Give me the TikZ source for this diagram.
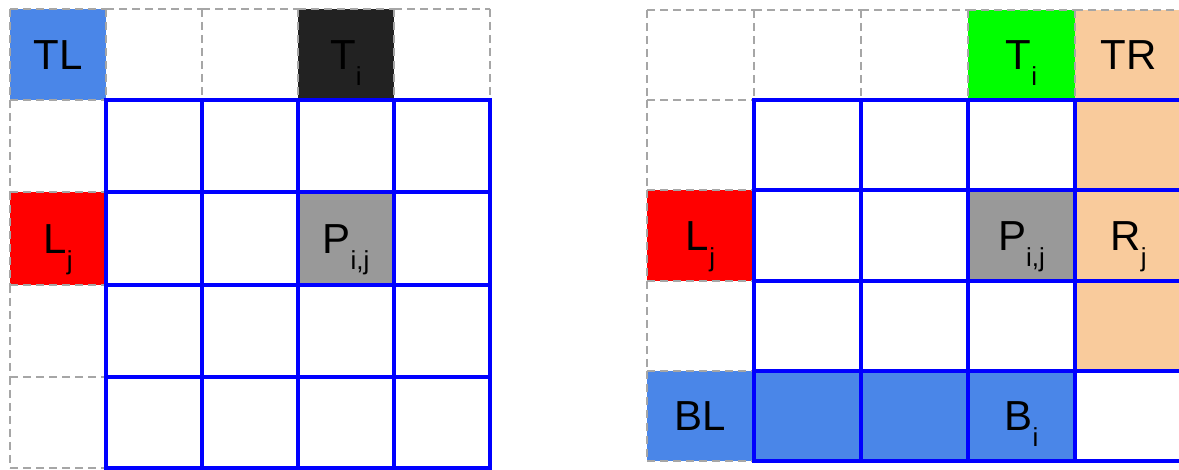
\documentclass[tikz,border=0pt]{standalone}
\usepackage{fontspec}
\setmainfont{Liberation Sans}
\definecolor{cblue}{HTML}{4A86E8}
\definecolor{cblack}{HTML}{222222}
\definecolor{cred}{HTML}{FF0000}
\definecolor{cgray}{HTML}{999999}
\definecolor{cgreen}{HTML}{00FF00}
\definecolor{corange}{HTML}{F9CB9C}
\definecolor{cdash}{HTML}{A6A6A6}
\definecolor{cline}{HTML}{0000FF}
\newcommand\sublbl[2]{#1\raisebox{-16pt}{\fontsize{26}{26}\selectfont #2}}
\begin{document}
\begin{tikzpicture}[x=1pt,y=-1pt,
 lab/.style={anchor=base,inner sep=0pt,font=\fontsize{42}{50}\selectfont},
 dashline/.style={draw=cdash,line width=2.5pt,dash pattern=on 8pt off 5pt},
 bluegrid/.style={draw=cline,line width=4pt,line cap=square}]
\useasboundingbox (0,0) rectangle (1179,470);
\clip (0,0) rectangle (1179,470);
% ---------- left picture ----------
\fill[cblue] (10,9) rectangle (106,100);
\fill[cblack] (298,9) rectangle (394,100);
\fill[cred] (10,192) rectangle (106,285);
\fill[cgray] (298,192) rectangle (394,285);
% top row of dashed cells
\foreach \x/\xx in {10/106,106/202,202/298,298/394,394/490} {
  \draw[dashline] (\x,9) -- (\xx,9);
  \draw[dashline] (\x,9) -- (\x,100);
}
\draw[dashline] (490,9) -- (490,100);
% left column of dashed cells
\foreach \y/\yy in {100/192,192/285,285/377,377/468} {
  \draw[dashline] (10,\y) -- (106,\y);
  \draw[dashline] (10,\y) -- (10,\yy);
}
\draw[dashline] (10,468) -- (106,468);
\draw[bluegrid] (106,100) rectangle (490,468);
\foreach \x in {202,298,394} \draw[bluegrid] (\x,100) -- (\x,468);
\foreach \y in {192,285,377} \draw[bluegrid] (106,\y) -- (490,\y);
\node[lab] (ltl) at (58,69.5) {TL};
\node[lab] (lti) at (346,69.5) {\sublbl{T}{i}};
\node[lab] (llj) at (58,253.5) {\sublbl{L}{j}};
\node[lab] (lpij) at (346,253.5) {\sublbl{P}{i,j}};
% ---------- right picture ----------
\fill[corange] (1075,10) rectangle (1182,371);
\fill[cblue] (647,371) rectangle (1075,461);
\fill[cgreen] (968,10) rectangle (1075,100);
\fill[cred] (647,190) rectangle (754,281);
\fill[cgray] (968,190) rectangle (1075,281);
\foreach \x/\xx in {647/754,754/861,861/968,968/1075,1075/1182} {
  \draw[dashline] (\x,10) -- (\xx,10);
  \draw[dashline] (\x,10) -- (\x,100);
}
\foreach \y/\yy in {100/190,190/281,281/371,371/461} {
  \draw[dashline] (647,\y) -- (754,\y);
  \draw[dashline] (647,\y) -- (647,\yy);
}
\draw[dashline] (647,461) -- (754,461);
\draw[bluegrid] (754,100) rectangle (1182,461);
\foreach \x in {861,968,1075} \draw[bluegrid] (\x,100) -- (\x,461);
\foreach \y in {190,281,371} \draw[bluegrid] (754,\y) -- (1182,\y);
\node[lab] (rti) at (1021.5,70) {\sublbl{T}{i}};
\node[lab] (rtr) at (1128.5,70) {TR};
\node[lab] (rlj) at (700.5,250.5) {\sublbl{L}{j}};
\node[lab] (rpij) at (1021.5,250.5) {\sublbl{P}{i,j}};
\node[lab] (rrj) at (1128.5,250.5) {\sublbl{R}{j}};
\node[lab] (rbl) at (700.5,431) {BL};
\node[lab] (rbi) at (1021.5,431) {\sublbl{B}{i}};
\end{tikzpicture}
\end{document}
